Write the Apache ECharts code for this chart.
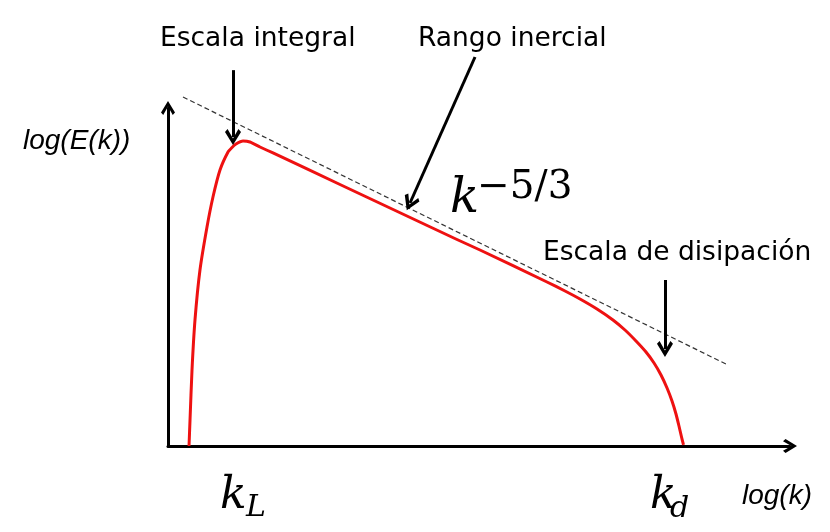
<!DOCTYPE html>
<html>
<head>
<meta charset="utf-8">
<script src="https://cdn.jsdelivr.net/npm/echarts@6/dist/echarts.min.js"></script>
<style>
  html, body { margin: 0; padding: 0; background: #fff; }
  #chart { width: 830px; height: 532px; }
</style>
</head>
<body>
<div id="chart"></div>
<script>
// espectro de energía (ejes en unidades arbitrarias log-log, 0..10)
var spectrumK = [0.338, 0.354, 0.386, 0.434, 0.514, 0.627, 0.723, 0.836, 0.965, 1.029, 1.093, 1.206, 1.318, 1.479, 1.688,
    2.765, 3.842, 4.646, 5.016, 6.093, 6.383, 6.624, 6.897, 7.154, 7.347, 7.524, 7.685, 7.814, 7.926, 8.023, 8.103,
    8.167, 8.215, 8.256, 8.288];
var spectrumE = [0, 0.769, 2.249, 3.728, 5.207, 6.479, 7.367, 8.166, 8.698, 8.831, 8.935, 9.024, 8.994, 8.846, 8.669,
    7.737, 6.805, 6.109, 5.799, 4.852, 4.586, 4.349, 4.053, 3.728, 3.432, 3.107, 2.781, 2.456, 2.101, 1.716, 1.331,
    0.947, 0.592, 0.266, 0.030];

// recta de pendiente -5/3
var slopeK = [0.241, 9.003];
var slopeE = [10.325, 2.396];

// flechas de anotación: [x0, y0, x1, y1]
var arrowIntegral = [1.045, 11.12, 1.045, 9.142];
var arrowInercial = [4.936, 11.509, 3.891, 7.189];
var arrowDisipacion = [7.990, 4.911, 7.990, 2.870];

var labelIntegral = 'Escala integral';
var labelInercial = 'Rango inercial';
var labelDisipacion = 'Escala de disipación';

var chevron = 'path://M5,0 L10,8.2 L8.4,10 L5,4 L1.6,10 L0,8.2 Z';

function pairs(xs, ys) {
    var out = [];
    for (var i = 0; i < xs.length; i++) {
        out.push([xs[i], ys[i]]);
    }
    return out;
}

var chart = echarts.init(document.getElementById('chart'));

var option = {
    backgroundColor: '#ffffff',
    animation: false,
    grid: {
        left: 168,
        right: 40,
        top: 108,
        bottom: 86
    },
    xAxis: {
        type: 'value',
        min: 0,
        max: 10,
        axisLine: {
            show: true,
            symbol: ['none', chevron],
            symbolSize: [16, 14],
            lineStyle: { color: '#000', width: 3 }
        },
        axisTick: { show: false },
        axisLabel: { show: false },
        splitLine: { show: false }
    },
    yAxis: {
        type: 'value',
        min: 0,
        max: 10,
        axisLine: {
            show: true,
            symbol: ['none', chevron],
            symbolSize: [16, 14],
            lineStyle: { color: '#000', width: 3 }
        },
        axisTick: { show: false },
        axisLabel: { show: false },
        splitLine: { show: false }
    },
    series: [
        {
            type: 'line',
            data: pairs(slopeK, slopeE),
            showSymbol: false,
            clip: false,
            lineStyle: { color: '#333', width: 1.2, type: [5, 3] },
            z: 1
        },
        {
            type: 'line',
            data: pairs(spectrumK, spectrumE),
            showSymbol: false,
            smooth: 0.2,
            clip: false,
            lineStyle: { color: '#ee1111', width: 3, join: 'round' },
            z: 3
        },
        {
            type: 'lines',
            coordinateSystem: 'cartesian2d',
            clip: false,
            symbol: ['none', chevron],
            symbolSize: [17, 16],
            lineStyle: { color: '#000', width: 3, opacity: 1 },
            data: [
                { coords: [[arrowIntegral[0], arrowIntegral[1]], [arrowIntegral[2], arrowIntegral[3]]] },
                { coords: [[arrowInercial[0], arrowInercial[1]], [arrowInercial[2], arrowInercial[3]]] },
                { coords: [[arrowDisipacion[0], arrowDisipacion[1]], [arrowDisipacion[2], arrowDisipacion[3]]] }
            ],
            z: 4
        }
    ],
    graphic: [
        { type: 'text', left: 160, top: 26, style: { text: labelIntegral, font: '26.5px "DejaVu Sans"', fill: '#000' } },
        { type: 'text', left: 418, top: 26, style: { text: labelInercial, font: '26.5px "DejaVu Sans"', fill: '#000' } },
        { type: 'text', left: 543, top: 240, style: { text: labelDisipacion, font: '26.5px "DejaVu Sans"', fill: '#000' } },
        { type: 'text', left: 23, top: 127, style: { text: 'log(E(k))', font: 'italic 28px "Liberation Sans"', fill: '#000' } },
        { type: 'text', left: 742, top: 482, style: { text: 'log(k)', font: 'italic 28px "Liberation Sans"', fill: '#000' } },
        { type: 'text', left: 450, top: 176, style: { text: 'k', font: 'italic 48px "DejaVu Serif"', fill: '#000' } },
        { type: 'text', left: 477, top: 168, style: { text: '\u22125/3', font: '39px "DejaVu Serif"', fill: '#000' } },
        { type: 'text', left: 220, top: 475, style: { text: 'k', font: 'italic 44px "DejaVu Serif"', fill: '#000' } },
        { type: 'text', left: 246, top: 493, style: { text: 'L', font: 'italic 30px "DejaVu Serif"', fill: '#000' } },
        { type: 'text', left: 650, top: 475, style: { text: 'k', font: 'italic 44px "DejaVu Serif"', fill: '#000' } },
        { type: 'text', left: 670, top: 494, style: { text: 'd', font: 'italic 30px "DejaVu Serif"', fill: '#000' } }
    ]
};

chart.setOption(option);
</script>
</body>
</html>
